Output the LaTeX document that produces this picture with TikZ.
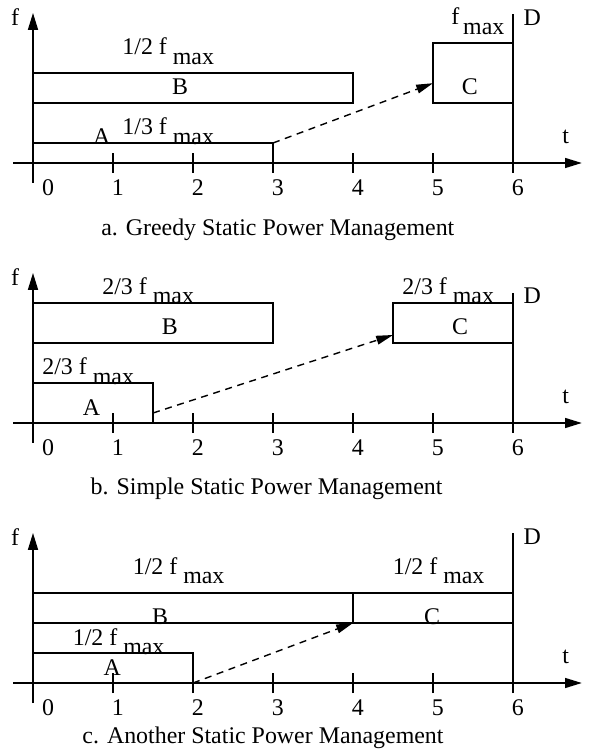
\documentclass[tikz,border=0pt]{standalone}
\usepackage{fontspec}
\setmainfont{Liberation Serif}
\usetikzlibrary{arrows.meta,calc}

\tikzset{
  axisline/.style={line width=0.5pt},
  axisarr/.style={-{Triangle[length=2.1mm,width=1.25mm]},line width=0.5pt},
  taskbox/.style={draw,line width=0.5pt,inner sep=0pt,outer sep=0pt,anchor=south west},
  slackarr/.style={-{Triangle[length=2.1mm,width=1.1mm]},line width=0.5pt,dash pattern=on 2.5pt off 2pt},
  freqlabel/.style={anchor=base,inner sep=0pt},
  tasklabel/.style={inner sep=0pt},
  caption/.style={anchor=base,inner sep=0pt}
}

\newcommand{\fmaxlabel}[1]{#1 f \raisebox{-0.4em}{max}}

% axes, ticks and deadline of one panel: #1 prefix, #2 top of deadline
\newcommand{\timeaxes}[2]{%
  \draw[axisarr] (-0.25,0) -- (6.86,0);
  \draw[axisarr] (0,-0.25) -- (0,1.875);
  \foreach \t in {1,...,5}
    \draw[axisline] (\t,-0.125) -- (\t,0.125);
  \draw[axisline] (6,-0.125) -- (6,#2);
  \node (#1f) at (-0.225,1.82) {f};
  \node (#1t) at (6.66,0.33) {t};
  \node (#1D) at (6.24,#2-0.04) {D};
  \node (#1n0) at (0.19,-0.31) {0};
  \foreach \t in {1,...,6}
    \node (#1n\t) at (\t+0.06,-0.31) {\t};
}

\begin{document}
\begin{tikzpicture}[font=\fontsize{8.5}{10}\selectfont]

  \useasboundingbox (-0.4125,-7.35) rectangle (6.9375,2.0375);

  % a. greedy
  \begin{scope}
    \timeaxes{a}{1.86}
    \node[taskbox,minimum width=4cm,minimum height=0.375cm] (aB) at (0,0.75) {};
    \node[taskbox,minimum width=3cm,minimum height=0.25cm] (aA) at (0,0) {};
    \node[taskbox,minimum width=1cm,minimum height=0.75cm] (aC) at (5,0.75) {};

    \node[tasklabel] (aBn) at (1.84,0.95) {B};
    \node[tasklabel] (aAn) at (0.86,0.33) {A};
    \node[tasklabel] (aCn) at (5.46,0.95) {C};

    \node[freqlabel] (aBf) at (1.69,1.35) {\fmaxlabel{1/2}};
    \node[freqlabel] (aAf) at (1.69,0.35) {\fmaxlabel{1/3}};
    \node[freqlabel] (aCf) at (5.56,1.725) {f\,\raisebox{-0.4em}{max}};

    \draw[slackarr] (aA.north east) -- ($(aC.south west)!0.33!(aC.north west)$);

    \node[caption] (acap) at (3.06,-0.91) {a. Greedy Static Power Management};
  \end{scope}

  % b. simple
  \begin{scope}[yshift=-3.25cm]
    \timeaxes{b}{1.625}
    \node[taskbox,minimum width=3cm,minimum height=0.5cm] (bB) at (0,1) {};
    \node[taskbox,minimum width=1.5cm,minimum height=0.5cm] (bA) at (0,0) {};
    \node[taskbox,minimum width=1.5cm,minimum height=0.5cm] (bC) at (4.5,1) {};

    \node[tasklabel] (bBn) at (1.71,1.2) {B};
    \node[tasklabel] (bAn) at (0.73,0.19) {A};
    \node[tasklabel] (bCn) at (5.34,1.2) {C};

    \node[freqlabel] (bBf) at (1.44,1.61) {\fmaxlabel{2/3}};
    \node[freqlabel] (bAf) at (0.69,0.6) {\fmaxlabel{2/3}};
    \node[freqlabel] (bCf) at (5.19,1.61) {\fmaxlabel{2/3}};

    \draw[slackarr] ($(bA.south east)!0.25!(bA.north east)$)
      -- ($(bC.south west)!0.2!(bC.north west)$);

    \node[caption] (bcap) at (2.92,-0.89) {b. Simple Static Power Management};
  \end{scope}

  % c. another
  \begin{scope}[yshift=-6.5cm]
    \timeaxes{c}{1.875}
    \node[taskbox,minimum width=4cm,minimum height=0.375cm] (cB) at (0,0.75) {};
    \node[taskbox,minimum width=2cm,minimum height=0.375cm] (cC) at (4,0.75) {};
    \node[taskbox,minimum width=2cm,minimum height=0.375cm] (cA) at (0,0) {};

    \node[tasklabel] (cBn) at (1.59,0.825) {B};
    \node[tasklabel] (cAn) at (0.99,0.19) {A};
    \node[tasklabel] (cCn) at (4.99,0.825) {C};

    \node[freqlabel] (cBf) at (1.82,1.36) {\fmaxlabel{1/2}};
    \node[freqlabel] (cAf) at (1.07,0.475) {\fmaxlabel{1/2}};
    \node[freqlabel] (cCf) at (5.07,1.36) {\fmaxlabel{1/2}};

    \draw[slackarr] (cA.south east) -- (cC.south west);

    \node[caption] (ccap) at (2.875,-0.76) {c. Another Static Power Management};
  \end{scope}

\end{tikzpicture}
\end{document}
